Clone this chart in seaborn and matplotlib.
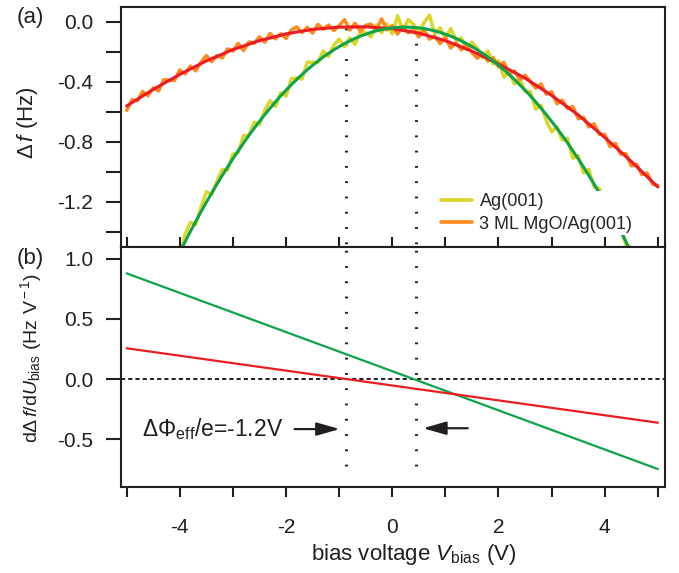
import numpy as np
import matplotlib
matplotlib.use("Agg")
import matplotlib.pyplot as plt
import seaborn as sns

# ---------------- data ----------------
bias_mgo = np.round(np.arange(-5.0, 5.001, 0.1), 1)          # 101 points
mgo_df = [-0.590, -0.518, -0.526, -0.464, -0.492, -0.440, -0.460, -0.385, -0.390, -0.390,
          -0.320, -0.347, -0.294, -0.326, -0.268, -0.225, -0.265, -0.225, -0.240, -0.180,
          -0.195, -0.143, -0.191, -0.134, -0.142, -0.100, -0.136, -0.077, -0.113, -0.079,
          -0.110, -0.054, -0.033, -0.072, -0.036, -0.075, -0.017, -0.049, -0.021, -0.058,
          -0.025, 0.015, -0.054, -0.009, -0.063, -0.023, -0.015, -0.053, 0.020, -0.053,
          -0.025, -0.081, -0.032, -0.073, -0.054, -0.100, -0.055, -0.115, -0.095, -0.145,
          -0.105, -0.174, -0.138, -0.187, -0.151, -0.205, -0.242, -0.209, -0.261, -0.238,
          -0.300, -0.269, -0.343, -0.327, -0.386, -0.355, -0.398, -0.441, -0.414, -0.482,
          -0.465, -0.546, -0.522, -0.578, -0.564, -0.645, -0.635, -0.700, -0.680, -0.750,
          -0.750, -0.832, -0.809, -0.881, -0.878, -0.960, -0.949, -1.018, -1.007, -1.081,
          -1.090]
mgo_fit = [-0.560, -0.538, -0.516, -0.494, -0.472, -0.450, -0.430, -0.410, -0.390, -0.370,
           -0.350, -0.332, -0.314, -0.296, -0.278, -0.260, -0.245, -0.230, -0.215, -0.200,
           -0.185, -0.173, -0.161, -0.149, -0.137, -0.125, -0.116, -0.107, -0.098, -0.089,
           -0.080, -0.074, -0.068, -0.062, -0.056, -0.050, -0.047, -0.044, -0.041, -0.038,
           -0.035, -0.035, -0.034, -0.034, -0.033, -0.033, -0.035, -0.038, -0.040, -0.043,
           -0.045, -0.051, -0.057, -0.063, -0.069, -0.075, -0.085, -0.095, -0.105, -0.115,
           -0.125, -0.139, -0.153, -0.167, -0.181, -0.195, -0.212, -0.229, -0.246, -0.263,
           -0.280, -0.299, -0.318, -0.337, -0.356, -0.375, -0.398, -0.421, -0.444, -0.467,
           -0.490, -0.516, -0.542, -0.568, -0.594, -0.620, -0.650, -0.680, -0.710, -0.740,
           -0.770, -0.802, -0.834, -0.866, -0.898, -0.930, -0.964, -0.998, -1.032, -1.066,
           -1.100]

bias_ag = np.round(np.arange(-4.1, 4.601, 0.1), 1)           # 88 points
ag_df = [-1.586, -1.564, -1.415, -1.336, -1.350, -1.235, -1.132, -1.151, -1.061, -0.983,
         -0.987, -0.882, -0.869, -0.757, -0.757, -0.669, -0.683, -0.588, -0.525, -0.563,
         -0.473, -0.495, -0.379, -0.374, -0.381, -0.269, -0.269, -0.271, -0.194, -0.230,
         -0.156, -0.115, -0.165, -0.107, -0.150, -0.065, -0.072, -0.100, -0.020, -0.072,
         -0.015, -0.080, 0.040, -0.055, 0.015, -0.017, -0.070, -0.005, 0.045, -0.080,
         -0.040, -0.112, -0.045, -0.120, -0.107, -0.185, -0.135, -0.176, -0.240, -0.194,
         -0.281, -0.259, -0.369, -0.331, -0.414, -0.379, -0.465, -0.463, -0.583, -0.555,
         -0.658, -0.733, -0.699, -0.787, -0.777, -0.909, -0.892, -1.007, -0.983, -1.101,
         -1.111, -1.242, -1.245, -1.360, -1.356, -1.485, -1.504, -1.616]
ag_fit = [-1.606, -1.534, -1.465, -1.396, -1.330, -1.265, -1.202, -1.141, -1.081, -1.023,
          -0.967, -0.912, -0.859, -0.807, -0.757, -0.709, -0.663, -0.618, -0.575, -0.533,
          -0.493, -0.455, -0.419, -0.384, -0.351, -0.319, -0.289, -0.261, -0.234, -0.210,
          -0.186, -0.165, -0.145, -0.127, -0.110, -0.095, -0.082, -0.070, -0.060, -0.052,
          -0.045, -0.040, -0.037, -0.035, -0.035, -0.037, -0.040, -0.045, -0.052, -0.060,
          -0.070, -0.082, -0.095, -0.110, -0.127, -0.145, -0.165, -0.186, -0.210, -0.234,
          -0.261, -0.289, -0.319, -0.351, -0.384, -0.419, -0.455, -0.493, -0.533, -0.575,
          -0.618, -0.663, -0.709, -0.757, -0.807, -0.859, -0.912, -0.967, -1.023, -1.081,
          -1.141, -1.202, -1.265, -1.330, -1.396, -1.465, -1.534, -1.606]

deriv_bias = [-5.0, 5.0]
ag_deriv = [0.88, -0.75]
mgo_deriv = [0.256, -0.364]

lcpd_bias = [-0.88, 0.45]          # dotted markers (zero crossings)
legend_labels = ["Ag(001)", "3 ML MgO/Ag(001)"]
x_major = [-4, -2, 0, 2, 4]
x_minor = [-5, -3, -1, 1, 3, 5]
ya_major = [-1.2, -0.8, -0.4, 0.0]
ya_minor = [-1.4, -1.0, -0.6, -0.2]
yb_major = [-0.5, 0.0, 0.5, 1.0]

# colours
C_YEL = "#DCD52A"
C_ORA = "#FF8A1E"
C_RED = "#EC1C24"
C_GRN = "#0DA44A"
C_INK = "#231F20"

# ---------------- style ----------------
sns.set_style("ticks")
plt.rcParams["font.family"] = ["Liberation Sans", "DejaVu Sans"]
plt.rcParams["mathtext.fontset"] = "custom"
plt.rcParams["mathtext.rm"] = "Liberation Sans"
plt.rcParams["mathtext.it"] = "Liberation Sans:italic"
plt.rcParams["mathtext.sf"] = "Liberation Sans"
plt.rcParams["axes.unicode_minus"] = False
plt.rcParams["lines.scale_dashes"] = False
plt.rcParams["axes.linewidth"] = 1.5
plt.rcParams["axes.edgecolor"] = C_INK

FS = 15

fig = plt.figure(figsize=(6.79, 5.73), dpi=100)
ax1 = fig.add_axes([0.178, 0.569, 0.801, 0.419])
ax2 = fig.add_axes([0.178, 0.150, 0.801, 0.419])

XL = (-5.11, 5.13)

# ---------------- panel (a) ----------------
sns.lineplot(x=bias_ag, y=ag_df, ax=ax1, color=C_YEL, lw=2.5, estimator=None, sort=False)
sns.lineplot(x=bias_mgo, y=mgo_df, ax=ax1, color=C_ORA, lw=2.5, estimator=None, sort=False)
sns.lineplot(x=bias_mgo, y=mgo_fit, ax=ax1, color=C_RED, lw=2.2, estimator=None, sort=False)
sns.lineplot(x=bias_ag, y=ag_fit, ax=ax1, color=C_GRN, lw=2.2, estimator=None, sort=False)

for xv in lcpd_bias:
    ax1.plot([xv, xv], [-0.04, -1.6], color=C_INK, lw=2.2,
             linestyle=(0, (1.3, 9.7)), zorder=1.5)

ax1.set_xlim(*XL)
ax1.set_ylim(-1.5, 0.1)
ax1.set_yticks(ya_major)
ax1.set_yticks(ya_minor, minor=True)
ax1.set_yticklabels([f"{v:.1f}" for v in ya_major])
ax1.tick_params(axis="x", which="both", bottom=False, top=False, labelbottom=False)
ax1.tick_params(axis="y", which="both", direction="out", length=11, width=1.5,
                pad=9, labelsize=FS, colors=C_INK)
for sp in ax1.spines.values():
    sp.set_visible(True)
    sp.set_linewidth(1.5)

lines = ax1.get_lines()
leg = ax1.legend(handles=[lines[0], lines[1]], labels=legend_labels,
                 loc="upper left", bbox_to_anchor=(0.583, 0.235),
                 fontsize=13, frameon=True, framealpha=1.0, facecolor="white",
                 edgecolor="none", borderpad=0.15, borderaxespad=0.0,
                 handlelength=1.75, handletextpad=0.4, labelspacing=0.3,
                 fancybox=False)
for h in leg.get_lines():
    h.set_linewidth(2.6)
leg.set_zorder(5)

# ---------------- panel (b) ----------------
sns.lineplot(x=deriv_bias, y=ag_deriv, ax=ax2, color=C_GRN, lw=1.6, estimator=None, sort=False)
sns.lineplot(x=deriv_bias, y=mgo_deriv, ax=ax2, color=C_RED, lw=1.6, estimator=None, sort=False)
ax2.axhline(0.0, color=C_INK, lw=1.4, linestyle=(0, (3.0, 2.2)), zorder=1.5)
for xv in lcpd_bias:
    ax2.plot([xv, xv], [1.2, -0.78], color=C_INK, lw=2.2,
             linestyle=(0, (1.3, 9.7)), zorder=1.5)

ax2.set_xlim(*XL)
ax2.set_ylim(-0.9, 1.1)
ax2.set_xticks(x_major)
ax2.set_xticks(x_minor, minor=True)
ax2.set_xticklabels([str(v) for v in x_major])
ax2.set_yticks(yb_major)
ax2.set_yticklabels([f"{v:.1f}" for v in yb_major])
ax2.tick_params(axis="x", which="both", bottom=True, top=True, direction="out",
                length=7.5, width=1.5, pad=15, labelsize=FS, colors=C_INK)
ax2.tick_params(axis="y", which="both", direction="out", length=11, width=1.5,
                pad=9, labelsize=FS, colors=C_INK)
for sp in ax2.spines.values():
    sp.set_visible(True)
    sp.set_linewidth(1.5)

# annotation
ax2.text(-4.71, -0.417, r"$\Delta\Phi_{\rm eff}$/e=-1.2V", fontsize=16.5,
         ha="left", va="center", color=C_INK)
arrow_kw = dict(arrowstyle="-|>,head_length=0.7,head_width=0.2", color=C_INK,
                lw=1.6, mutation_scale=20, shrinkA=0, shrinkB=0)
ax2.annotate("", xy=(-0.99, -0.417), xytext=(-1.84, -0.417), arrowprops=arrow_kw)
ax2.annotate("", xy=(0.58, -0.41), xytext=(1.42, -0.41), arrowprops=arrow_kw)

# ---------------- labels ----------------
fig.text(0.041, 0.787, r"$\Delta\,f$ (Hz)", rotation=90, fontsize=FS + 1,
         ha="center", va="center", color=C_INK)
fig.text(0.046, 0.376, r"d$\Delta\,f$/d$U_{\rm bias}$ (Hz V$^{\rm -1}$)", rotation=90,
         fontsize=14, ha="center", va="center", color=C_INK)
fig.text(0.6097, 0.033, r"bias voltage $V_{\rm bias}$ (V)", fontsize=FS + 1,
         ha="center", va="center", color=C_INK)
fig.text(0.044, 0.970, "(a)", fontsize=FS + 1, ha="center", va="center", color=C_INK)
fig.text(0.044, 0.549, "(b)", fontsize=FS + 1, ha="center", va="center", color=C_INK)

fig.savefig("out.png", dpi=100)
